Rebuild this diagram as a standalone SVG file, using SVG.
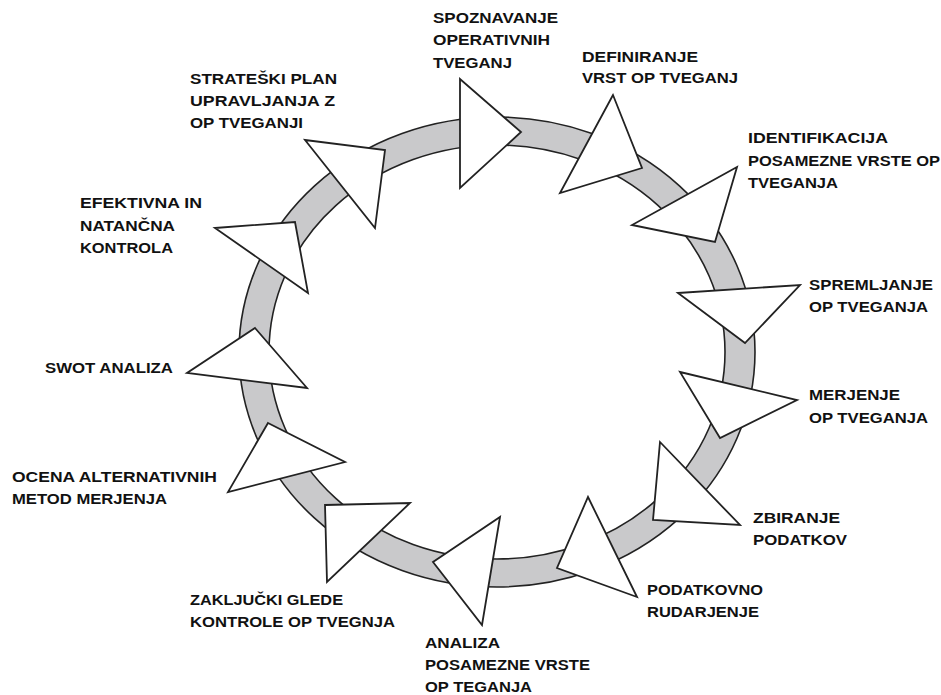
<svg xmlns="http://www.w3.org/2000/svg" width="941" height="695" viewBox="0 0 941 695">
<style>
.tri{fill:#ffffff;stroke:#222222;stroke-width:1.8;stroke-linejoin:miter}
.ring{fill:#c9c9cb;stroke:#222222;stroke-width:1.6;fill-rule:evenodd}
text{font-family:"Liberation Sans",Arial,sans-serif;font-weight:bold;font-size:14px;fill:#111111}
</style>
<rect width="941" height="695" fill="#ffffff"/>
<g id="connectors">
<path class="ring" d="M239,352 a258,235 0 1,0 516,0 a258,235 0 1,0 -516,0 Z M269,352 a228,207 0 1,0 456,0 a228,207 0 1,0 -456,0 Z"/>
</g>
<g id="n1">
<polygon class="tri" points="460,79 460,188 521,132"/>
<text lengthAdjust="spacingAndGlyphs"><tspan x="433" y="23" textLength="125" lengthAdjust="spacingAndGlyphs">SPOZNAVANJE</tspan></text>
<text x="433" y="45" textLength="117" lengthAdjust="spacingAndGlyphs">OPERATIVNIH</text>
<text x="433" y="68" textLength="79" lengthAdjust="spacingAndGlyphs">TVEGANJ</text>
</g>
<g id="n2">
<polygon class="tri" points="613,95 560,193 642,168"/>
<text x="582" y="62" textLength="116" lengthAdjust="spacingAndGlyphs">DEFINIRANJE</text>
<text x="582" y="83" textLength="156" lengthAdjust="spacingAndGlyphs">VRST OP TVEGANJ</text>
</g>
<g id="n3">
<polygon class="tri" points="737,167 632,225 715,242"/>
<text x="748" y="143" textLength="140" lengthAdjust="spacingAndGlyphs">IDENTIFIKACIJA</text>
<text x="748" y="166" textLength="192" lengthAdjust="spacingAndGlyphs">POSAMEZNE VRSTE OP</text>
<text x="748" y="188" textLength="90" lengthAdjust="spacingAndGlyphs">TVEGANJA</text>
</g>
<g id="n4">
<polygon class="tri" points="678,293 800,285 745,343"/>
<text x="809" y="290" textLength="124" lengthAdjust="spacingAndGlyphs">SPREMLJANJE</text>
<text x="809" y="312" textLength="119" lengthAdjust="spacingAndGlyphs">OP TVEGANJA</text>
</g>
<g id="n5">
<polygon class="tri" points="680,372 797,400 720,438"/>
<text x="809" y="400" textLength="91" lengthAdjust="spacingAndGlyphs">MERJENJE</text>
<text x="809" y="423" textLength="119" lengthAdjust="spacingAndGlyphs">OP TVEGANJA</text>
</g>
<g id="n6">
<polygon class="tri" points="660,442 740,525 653,520"/>
<text x="753" y="523" textLength="87" lengthAdjust="spacingAndGlyphs">ZBIRANJE</text>
<text x="753" y="545" textLength="94" lengthAdjust="spacingAndGlyphs">PODATKOV</text>
</g>
<g id="n7">
<polygon class="tri" points="588,497 637,597 557,568"/>
<text x="647" y="595" textLength="116" lengthAdjust="spacingAndGlyphs">PODATKOVNO</text>
<text x="647" y="617" textLength="112" lengthAdjust="spacingAndGlyphs">RUDARJENJE</text>
</g>
<g id="n8">
<polygon class="tri" points="500,517 482,625 433,562"/>
<text x="425" y="648" textLength="75" lengthAdjust="spacingAndGlyphs">ANALIZA</text>
<text x="425" y="670" textLength="165" lengthAdjust="spacingAndGlyphs">POSAMEZNE VRSTE</text>
<text x="425" y="692" textLength="107" lengthAdjust="spacingAndGlyphs">OP TEGANJA</text>
</g>
<g id="n9">
<polygon class="tri" points="325,505 410,503 327,582"/>
<text x="190" y="605" textLength="153" lengthAdjust="spacingAndGlyphs">ZAKLJUČKI GLEDE</text>
<text x="190" y="627" textLength="205" lengthAdjust="spacingAndGlyphs">KONTROLE OP TVEGNJA</text>
</g>
<g id="n10">
<polygon class="tri" points="268,423 345,462 228,492"/>
<text x="12" y="482" textLength="205" lengthAdjust="spacingAndGlyphs">OCENA ALTERNATIVNIH</text>
<text x="12" y="504" textLength="155" lengthAdjust="spacingAndGlyphs">METOD MERJENJA</text>
</g>
<g id="n11">
<polygon class="tri" points="255,328 307,388 187,373"/>
<text x="45" y="373" textLength="128" lengthAdjust="spacingAndGlyphs">SWOT ANALIZA</text>
</g>
<g id="n12">
<polygon class="tri" points="215,228 295,222 308,293"/>
<text x="80" y="208" textLength="122" lengthAdjust="spacingAndGlyphs">EFEKTIVNA IN</text>
<text x="80" y="231" textLength="95" lengthAdjust="spacingAndGlyphs">NATANČNA</text>
<text x="80" y="253" textLength="93" lengthAdjust="spacingAndGlyphs">KONTROLA</text>
</g>
<g id="n13">
<polygon class="tri" points="305,140 385,150 375,228"/>
<text x="190" y="84" textLength="147" lengthAdjust="spacingAndGlyphs">STRATEŠKI PLAN</text>
<text x="190" y="106" textLength="145" lengthAdjust="spacingAndGlyphs">UPRAVLJANJA Z</text>
<text x="190" y="128" textLength="113" lengthAdjust="spacingAndGlyphs">OP TVEGANJI</text>
</g>
</svg>
